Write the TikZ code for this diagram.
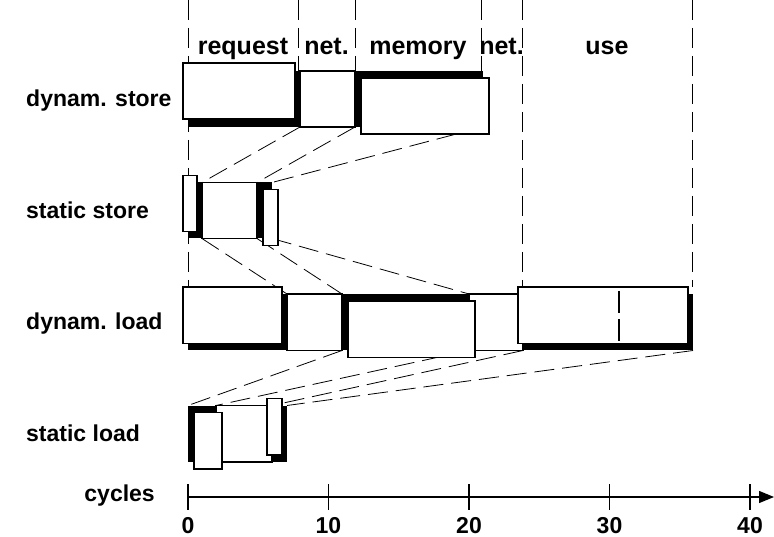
\documentclass[tikz,border=0pt]{standalone}
\usepackage{fontspec}
\setmainfont{Liberation Sans}
\usetikzlibrary{arrows.meta}

\begin{document}
\begin{tikzpicture}[x=1pt,y=-1pt,line join=miter,
    box/.style={draw,fill=white,line width=1.3pt},
    guide/.style={line width=0.8pt,dash pattern=on 20pt off 8pt},
    link/.style={line width=0.8pt,dash pattern=on 20pt off 8pt},
    headtext/.style={font=\bfseries\fontsize{25}{29}\selectfont,inner sep=0pt},
    rowtext/.style={font=\bfseries\fontsize{23}{27}\selectfont,inner sep=0pt}]
  \useasboundingbox (0,0) rectangle (774,537);

  % A busy stage: black block at its nominal place, and the
  % white box pushed off it by a small offset.
  \def\busy#1#2#3{
    % #1 = top left, #2 = bottom right, #3 = offset of the white box
    \fill (#1) rectangle (#2);
    \draw[box] ([shift={#3}]#1) rectangle ([shift={#3}]#2);
  }

  % Stage boundaries of each row (top and bottom corners)
  \foreach \n/\x in {a/188,b/300,c/355,d/483}
    {\coordinate (ds-\n-t) at (\x,71); \coordinate (ds-\n-b) at (\x,127);}
  \foreach \n/\x in {a/188,b/202,c/257,d/272}
    {\coordinate (ss-\n-t) at (\x,182.5); \coordinate (ss-\n-b) at (\x,238.5);}
  \foreach \n/\x in {a/188,b/287,c/342,d/469,e/523,f/693}
    {\coordinate (dl-\n-t) at (\x,294); \coordinate (dl-\n-b) at (\x,350.5);}
  \foreach \n/\x in {a/188,b/216,c/272,d/287}
    {\coordinate (sl-\n-t) at (\x,405.5); \coordinate (sl-\n-b) at (\x,462);}

  % Phase guides and their headings
  \foreach \x/\y in {188/294,298/71,355/71,481/71,522/287,692/287}
    \draw[guide] (\x,0) -- (\x,\y);
  \foreach \x/\t [count=\i] in {243/request,326.5/net.,418/memory,501.5/net.,607/use}
    \node[headtext,anchor=base] (head\i) at (\x,55) {\t};

  % Dashed links from one row to the next
  \draw[link] (ds-b-b) -- (ss-b-t);
  \draw[link] (ds-c-b) -- (ss-c-t);
  \draw[link] (ds-d-b) -- (ss-d-t);
  \draw[link] (ss-b-b) -- (dl-b-t);
  \draw[link] (ss-c-b) -- (dl-c-t);
  \draw[link] (ss-d-b) -- (dl-d-t);
  \draw[link] (dl-c-b) -- (sl-a-t);
  \draw[link] (dl-d-b) -- (sl-b-t);
  \draw[link] (dl-e-b) -- (sl-c-t);
  \draw[link] (dl-f-b) -- (sl-d-t);

  % Plain stages
  \draw[box] (ds-b-t) rectangle (ds-c-b);
  \draw[box] (ss-b-t) rectangle (ss-c-b);
  \draw[box] (dl-b-t) rectangle (dl-c-b);
  \draw[box] (dl-d-t) rectangle (dl-e-b);
  \draw[box] (sl-b-t) rectangle (sl-c-b);

  % Busy stages
  \busy{ds-a-t}{ds-b-b}{(-5,-8)}
  \busy{ds-c-t}{ds-d-b}{(6,7)}
  \busy{ss-a-t}{ss-b-b}{(-5,-7)}
  \busy{ss-c-t}{ss-d-b}{(6,7)}
  \busy{dl-a-t}{dl-b-b}{(-5,-7)}
  \busy{dl-c-t}{dl-d-b}{(6,7)}
  \busy{dl-e-t}{dl-f-b}{(-5,-7)}
  \busy{sl-a-t}{sl-b-b}{(6,7)}
  \busy{sl-c-t}{sl-d-b}{(-5,-7)}

  % split mark inside the use box
  \draw[line width=1.2pt,dash pattern=on 22pt off 6pt] (619,291) -- (619,341);

  % Row names
  \node[rowtext,anchor=base west] (name-ds) at (26,107) {dynam. store};
  \node[rowtext,anchor=base west] (name-ss) at (26,218.5) {static store};
  \node[rowtext,anchor=base west] (name-dl) at (26,330) {dynam. load};
  \node[rowtext,anchor=base west] (name-sl) at (26,441.5) {static load};

  % Time axis, 10 cycles = 140.5
  \coordinate (t0) at (188,497);
  \coordinate (tend) at (774,497);
  \draw[line width=1.2pt,-{Triangle[length=15pt,width=12pt]}] (t0) -- (tend);
  \foreach \k/\v in {0/0,1/10,2/20,3/30,4/40} {
    \draw[line width=1.2pt] (188+140.5*\k,484) -- (188+140.5*\k,510);
    \node[rowtext,anchor=base] (num\k) at (188+140.5*\k,533) {\v};
  }
  \node[rowtext,anchor=base east] (name-axis) at (155,501) {cycles};
\end{tikzpicture}
\end{document}
